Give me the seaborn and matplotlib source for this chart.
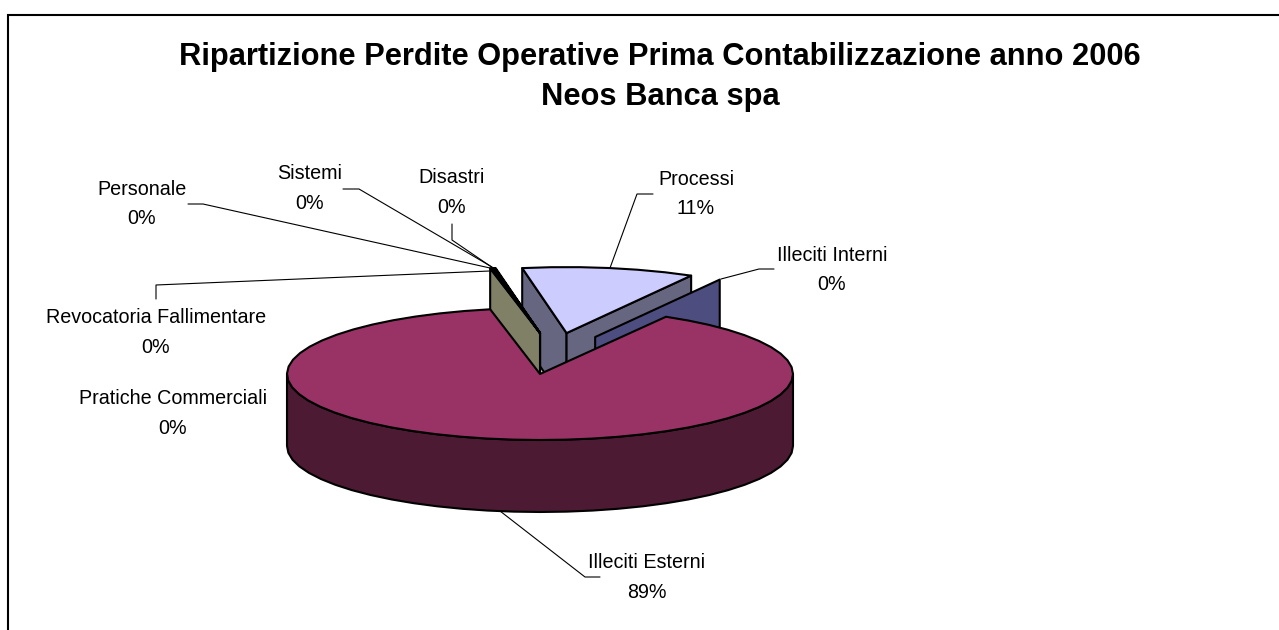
import numpy as np
import matplotlib
matplotlib.use("Agg")
import matplotlib.pyplot as plt
import seaborn as sns

# Operational losses by event type, first accounting, 2006 (share of total, %)
categories = ["Illeciti Interni", "Illeciti Esterni", "Pratiche Commerciali",
              "Revocatoria Fallimentare", "Personale", "Sistemi", "Disastri", "Processi"]
values = [0.10, 88.55, 0.15, 0.05, 0.05, 0.05, 0.05, 11.00]
title_lines = ["Ripartizione Perdite Operative Prima Contabilizzazione anno 2006",
               "Neos Banca spa"]

sns.set_theme(style="white")
plt.rcParams["font.family"] = ["Liberation Sans", "DejaVu Sans"]
colors = sns.color_palette(["#9999FF", "#993366", "#FFFFCC", "#CCFFFF",
                            "#660066", "#FF8080", "#0066CC", "#CCCCFF"])

W, H = 1279, 630
CX, CY, RX, RY = 540, 374, 253, 66   # pie centre and ellipse radii, pixels
START = 60.5                          # angle where the first slice begins, degrees
DEPTH = 72 / RY                       # pie thickness in pie-axes units
STEP = 6.0                            # arc sampling, degrees

# Displacement of each slice from the pie centre, in radii of the ellipse
explode = {
    "Illeciti Interni": (0.218, 0.56),
    "Pratiche Commerciali": (0.0, 0.62),
    "Revocatoria Fallimentare": (0.0, 0.62),
    "Personale": (0.0, 0.62),
    "Sistemi": (0.0, 0.62),
    "Disastri": (0.0, 0.62),
    "Processi": (0.105, 0.62),
}

# Slice-level label placement: text centre and leader path, in pixels
label_layout = {
    "Illeciti Interni": ((832, 270), [(774, 269), (759, 269), (721, 279)]),
    "Illeciti Esterni": ((647, 577.5), [(600, 577), (585, 577), (500, 511)]),
    "Pratiche Commerciali": ((173, 413.5), None),
    "Revocatoria Fallimentare": ((156, 332.5), [(156, 299), (156, 285), (490, 271)]),
    "Personale": ((142, 204), [(188, 204), (203, 204), (490, 268)]),
    "Sistemi": ((310, 188.5), [(343, 189), (359, 189), (492, 267)]),
    "Disastri": ((452, 192.5), [(452, 224), (452, 240), (493, 268)]),
    "Processi": ((696, 194), [(653, 194), (637, 194), (610, 268)]),
}


def arc(t_from, t_to):
    """Points on the unit circle going from t_from to t_to, degrees."""
    n = max(2, int(abs(t_to - t_from) / STEP) + 1)
    t = np.radians(np.linspace(t_from, t_to, n))
    return np.cos(t), np.sin(t)


def darker(color):
    return tuple(c * 0.5 for c in color)


def draw_wall(ax, angle, offset, color):
    ox, oy = offset
    c, s = np.cos(np.radians(angle)), np.sin(np.radians(angle))
    xs = np.array([ox, ox + c, ox + c, ox])
    ys = np.array([oy, oy + s, oy + s - DEPTH, oy - DEPTH])
    ax.fill(xs, ys, facecolor=darker(color), edgecolor="black", lw=1.5, joinstyle="round")


def draw_top(ax, t_from, t_to, offset, color):
    ox, oy = offset
    x, y = arc(t_from, t_to)
    ax.fill(np.r_[ox, x + ox], np.r_[oy, y + oy], facecolor=color,
            edgecolor="black", lw=1.5, joinstyle="round")


fig = plt.figure(figsize=(W / 100, H / 100), dpi=100, facecolor="white")

# Pie axes: the ellipse is the unit circle in data units
ax = fig.add_axes([0, 0, 1, 1])
ax.set_xlim((0 - CX) / RX, (W - CX) / RX)
ax.set_ylim((CY - H) / RY, (CY - 0) / RY)
ax.axis("off")

# Slice boundaries, clockwise from the start angle
spans = {}
t = START
for name, v in zip(categories, values):
    spans[name] = (t, t - v * 3.6)
    t -= v * 3.6
color_of = dict(zip(categories, colors))

# Back to front: detached slices first, the large slice over them
p = "Processi"
draw_wall(ax, spans[p][0], explode[p], color_of[p])
draw_wall(ax, spans[p][1], explode[p], color_of[p])
draw_top(ax, spans[p][0], spans[p][1], explode[p], color_of[p])

thin_slices = ["Disastri", "Sistemi", "Personale", "Revocatoria Fallimentare", "Pratiche Commerciali"]
for name in thin_slices:
    draw_wall(ax, spans[name][0], explode[name], color_of[name])
for name in thin_slices:
    draw_top(ax, spans[name][0], spans[name][1], explode[name], color_of[name])

draw_wall(ax, spans["Illeciti Interni"][0], explode["Illeciti Interni"], color_of["Illeciti Interni"])

main = "Illeciti Esterni"
x_lo, y_lo = arc(180, 360)
ax.fill(np.r_[x_lo, x_lo[::-1]], np.r_[y_lo, y_lo[::-1] - DEPTH],
        facecolor=darker(color_of[main]), edgecolor="black", lw=1.5, joinstyle="round")
draw_top(ax, spans[main][0], spans[main][1], (0, 0), color_of[main])

# Overlay axes in pixel units for frame, title and labels
ov = fig.add_axes([0, 0, 1, 1], facecolor="none")
ov.set_xlim(0, W)
ov.set_ylim(H, 0)
ov.axis("off")
ov.plot([8, 8, W], [H, 15, 15], color="black", lw=1.5, solid_joinstyle="miter")

ov.text(660, 57, title_lines[0], ha="center", va="center", fontsize=22.2, fontweight="bold", color="black")
ov.text(660, 97, title_lines[1], ha="center", va="center", fontsize=22.2, fontweight="bold", color="black")

for name, v in zip(categories, values):
    (tx, ty), leader = label_layout[name]
    ov.text(tx, ty, f"{name}\n{v:.0f}%", ha="center", va="center", fontsize=14.2,
            linespacing=1.7, color="black")
    if leader:
        ov.plot(*zip(*leader), color="black", lw=0.8)

fig.savefig("out.png", dpi=100, facecolor="white")
